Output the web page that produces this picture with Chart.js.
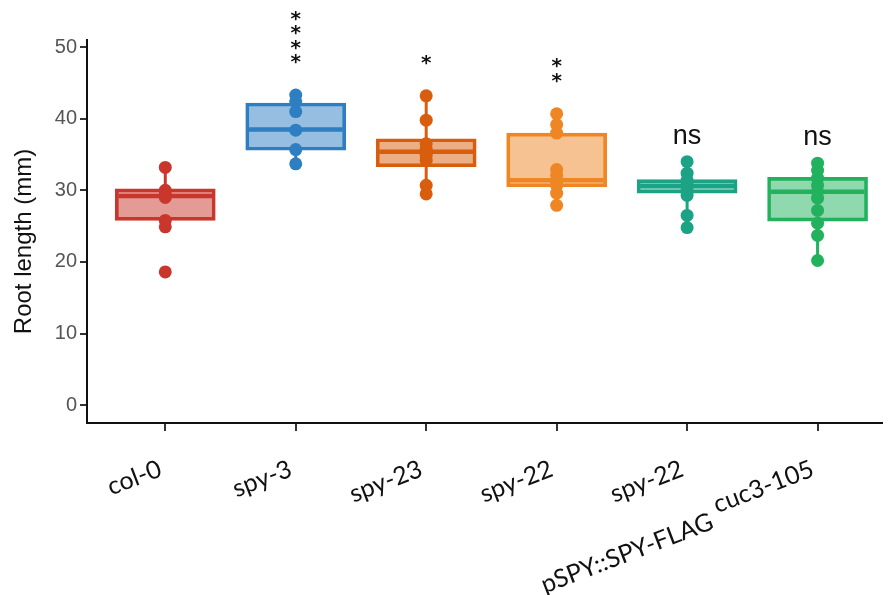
<!DOCTYPE html>
<html>
<head>
<meta charset="utf-8">
<script src="https://cdn.jsdelivr.net/npm/chart.js@4.4.1/dist/chart.umd.min.js"></script>
<style>
    html, body { margin: 0; padding: 0; background: #fff; }
    #wrap { width: 888px; height: 595px; }
</style>
</head>
<body>
<div id="wrap"><canvas id="rootChart" width="888" height="595"></canvas></div>
<script>
// Root length per genotype (mm)
const genotypes = [['col-0'], ['spy-3'], ['spy-23'], ['spy-22'], ['spy-22', 'pSPY::SPY-FLAG'], ['cuc3-105']];

const colPoints = [33.2, 30.0, 29.5, 29.0, 25.8, 24.9, 18.6];
const spy3Points = [43.3, 42.4, 41.0, 38.4, 35.7, 33.7];
const spy23Points = [43.2, 39.8, 36.5, 35.8, 34.9, 34.2, 30.7, 29.5];
const spy22Points = [40.7, 39.2, 38.0, 32.9, 32.1, 31.2, 30.7, 29.6, 27.9];
const flagPoints = [34.0, 32.4, 31.4, 30.7, 30.0, 29.3, 26.5, 24.8];
const cucPoints = [33.8, 32.8, 31.7, 30.7, 29.8, 28.9, 27.2, 25.4, 23.7, 20.2];
const groupPoints = [colPoints, spy3Points, spy23Points, spy22Points, flagPoints, cucPoints];

// box statistics
const q1 = [25.8, 35.6, 33.3, 30.5, 29.6, 25.7];
const median = [29.2, 38.5, 35.4, 31.4, 30.6, 29.8];
const q3 = [30.2, 42.2, 37.2, 38.0, 31.5, 31.8];
const whiskerLow = [24.9, 33.7, 29.5, 27.9, 24.8, 20.2];
const whiskerHigh = [33.2, 43.3, 43.2, 40.7, 34.0, 33.8];

// significance vs col-0
const signif = ['', '****', '*', '**', 'ns', 'ns'];

const yTicks = [0, 10, 20, 30, 40, 50];

const strokeColors = ['#C9372C', '#2E7EC2', '#D85D0C', '#EF8624', '#1CA385', '#22B25E'];
const fillColors = [
    'rgba(201, 55, 44, 0.5)',
    'rgba(46, 126, 194, 0.5)',
    'rgba(216, 93, 12, 0.5)',
    'rgba(239, 134, 36, 0.5)',
    'rgba(28, 163, 133, 0.5)',
    'rgba(34, 178, 94, 0.5)'
];

const halfBox = 0.36;

// whisker segments (gap between them is the box)
const whiskerData = [];
q1.forEach((v, i) => {
    whiskerData.push({ x: i + 1, y: whiskerLow[i] }, { x: i + 1, y: v }, { x: i + 1, y: null });
    whiskerData.push({ x: i + 1, y: q3[i] }, { x: i + 1, y: whiskerHigh[i] }, { x: i + 1, y: null });
});

const medianData = [];
median.forEach((m, i) => {
    medianData.push({ x: i + 1 - halfBox, y: m }, { x: i + 1 + halfBox, y: m }, { x: i + 1, y: null });
});

const pointData = [];
groupPoints.forEach((pts, i) => pts.forEach(v => pointData.push({ x: i + 1, y: v })));

const groupColor = ctx => strokeColors[Math.round(ctx.p0.parsed.x) - 1];

// stars / ns above each group
const signifPlugin = {
    id: 'signif',
    afterDatasetsDraw(chart) {
        const { ctx, scales } = chart;
        ctx.save();
        ctx.fillStyle = '#111';
        ctx.textAlign = 'center';
        signif.forEach((label, i) => {
            if (!label) return;
            const x = scales.x.getPixelForValue(i + 1);
            const top = scales.y.getPixelForValue(whiskerHigh[i]);
            if (label === 'ns') {
                ctx.font = '27px "Liberation Sans", Arial, sans-serif';
                ctx.textBaseline = 'alphabetic';
                ctx.fillText(label, x, top - 18);
            } else {
                ctx.font = 'bold 20px "DejaVu Sans", sans-serif';
                const m = ctx.measureText('*');
                const shift = (m.actualBoundingBoxAscent - m.actualBoundingBoxDescent) / 2;
                ctx.textBaseline = 'alphabetic';
                for (let k = 0; k < label.length; k++) {
                    ctx.fillText('*', x, top - 36 - k * 14.5 + shift);
                }
            }
        });
        ctx.restore();
    }
};

// rotated genotype names under the x axis
const xLabelPlugin = {
    id: 'xLabels',
    afterDraw(chart) {
        const { ctx } = chart;
        const xs = chart.scales.x;
        ctx.save();
        ctx.font = '25px Lato, sans-serif';
        ctx.fillStyle = '#111';
        ctx.textAlign = 'center';
        ctx.textBaseline = 'middle';
        genotypes.forEach((lines, i) => {
            const w0 = ctx.measureText(lines[0]).width;
            ctx.save();
            ctx.translate(xs.getPixelForValue(i + 1) - 5, xs.top + 45);
            ctx.rotate(-21 * Math.PI / 180);
            lines.forEach((t, j) => ctx.fillText(t, -w0 / 2 - 44 * j, j * 60));
            ctx.restore();
        });
        ctx.restore();
    }
};

new Chart(document.getElementById('rootChart'), {
    type: 'bar',
    data: {
        datasets: [
            {
                type: 'scatter',
                data: pointData,
                pointRadius: 6.5,
                pointBorderWidth: 0,
                pointBackgroundColor: ctx => strokeColors[ctx.raw.x - 1],
                order: 0
            },
            {
                type: 'line',
                data: medianData,
                borderWidth: 4.5,
                pointRadius: 0,
                spanGaps: false,
                borderColor: '#000',
                segment: { borderColor: groupColor },
                order: 1
            },
            {
                type: 'bar',
                data: q1.map((v, i) => ({ x: i + 1, y: [v, q3[i]] })),
                backgroundColor: fillColors,
                borderColor: strokeColors,
                borderWidth: 3,
                borderSkipped: false,
                barThickness: 100,
                order: 2
            },
            {
                type: 'line',
                data: whiskerData,
                borderWidth: 3,
                pointRadius: 0,
                spanGaps: false,
                borderColor: '#000',
                segment: { borderColor: groupColor },
                order: 3
            }
        ]
    },
    options: {
        responsive: false,
        animation: false,
        layout: { padding: { top: 40, right: 0, left: 0, bottom: 0 } },
        plugins: {
            legend: { display: false },
            tooltip: { enabled: false }
        },
        scales: {
            x: {
                type: 'linear',
                min: 0.4,
                max: 6.49,
                offset: false,
                afterBuildTicks: s => { s.ticks = genotypes.map((g, i) => ({ value: i + 1 })); },
                afterFit: s => { s.height = 172; },
                grid: { offset: false, drawOnChartArea: false, drawTicks: true, tickLength: 8, color: '#333', lineWidth: 2 },
                border: { display: true, color: '#111', width: 2 },
                ticks: { display: false, autoSkip: false }
            },
            y: {
                min: -2.5,
                max: 51,
                afterBuildTicks: s => { s.ticks = yTicks.map(v => ({ value: v })); },
                afterFit: s => { s.width = 87; },
                grid: { drawOnChartArea: false, drawTicks: true, tickLength: 7, color: '#333', lineWidth: 2 },
                border: { display: true, color: '#111', width: 2 },
                ticks: {
                    padding: 3,
                    color: '#555',
                    font: { family: 'Liberation Sans', size: 20 }
                },
                title: {
                    display: true,
                    text: 'Root length (mm)   ',
                    color: '#111',
                    padding: { top: 10, bottom: 0 },
                    font: { family: 'Liberation Sans', size: 24 }
                }
            }
        }
    },
    plugins: [signifPlugin, xLabelPlugin]
});
</script>
</body>
</html>
